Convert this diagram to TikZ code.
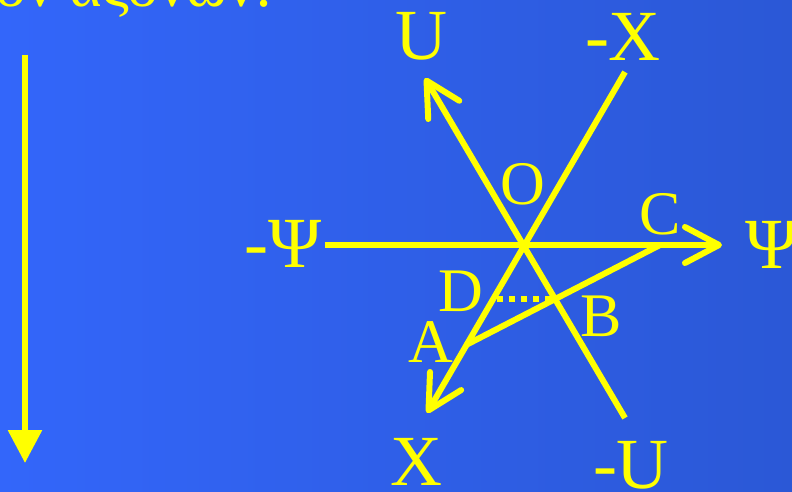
\documentclass[tikz,border=0pt]{standalone}
\usepackage{fontspec}
\setmainfont{Liberation Serif}
\usepackage{tikz}
\usetikzlibrary{arrows.meta, positioning}

\definecolor{bgleft}{RGB}{51,102,250}
\definecolor{bgright}{RGB}{43,88,214}
\definecolor{axiscol}{RGB}{255,255,0}

\tikzset{
	axisline/.style={draw=axiscol, line width=6pt},
	axisarrow/.style={axisline, -{Straight Barb[length=34pt, width=36pt, round]}},
	biglabel/.style={text=axiscol, font=\fontsize{72}{72}\selectfont, inner sep=0pt},
	ptlabel/.style={text=axiscol, font=\fontsize{62}{62}\selectfont, inner sep=0pt},
}

\begin{document}
\begin{tikzpicture}[x=1pt, y=-1pt]

		\shade[left color=bgleft, right color=bgright] (0,0) rectangle (792,492);
		\useasboundingbox (0,0) rectangle (792,492);

		\coordinate (O) at (523,245);
		\coordinate (Psim) at (325,245);
		\coordinate (Psi) at (722,245);
		\coordinate (Ut) at (425,78);
		\coordinate (Um) at (625,418);
		\coordinate (Xm) at (625,72);
		\coordinate (Xt) at (427,413);
		\coordinate (A) at (466,345);
		\coordinate (C) at (660,245);
		\coordinate (B) at (555,299);
		\coordinate (D) at (493,299);
		\coordinate (Ltop) at (25,55);
		\coordinate (Lbot) at (25,463);

		\node[ptlabel, anchor=base east] (title) at (273,7) {ον αξόνων:};

		\node[biglabel] (lU) at (421,36) {U};
		\node[biglabel] (lXm) at (623,37) {-X};
		\node[biglabel] (lPsim) at (283,244) {-Ψ};
		\node[biglabel, anchor=west] (lPsi) at (745,245) {Ψ};
		\node[biglabel] (lX) at (416,462) {X};
		\node[biglabel] (lUm) at (631,465) {-U};

		\node[ptlabel] (lO) [above=40pt of O] {O};
		\node[ptlabel] (lC) [above=10pt of C] {C};
		\node[ptlabel] (lD) [left=10pt of D, yshift=8pt] {D};
		\node[ptlabel] (lA) [left=13pt of A, yshift=3pt] {A};
		\node[ptlabel] (lB) [right=25pt of B, yshift=-17pt] {B};

		\draw[axisline, -{Triangle[length=33pt, width=33pt]}] (Ltop) -- (Lbot);

		\draw[axisarrow] (Psim) -- (Psi);
		\draw[axisarrow] (Um) -- (Ut);
		\draw[axisarrow] (Xm) -- (Xt);
		\draw[axisline] (A) -- (C);
		\draw[axisline, dash pattern=on 6pt off 6pt, dash phase=-4pt] (D) -- (B);

\end{tikzpicture}
\end{document}
